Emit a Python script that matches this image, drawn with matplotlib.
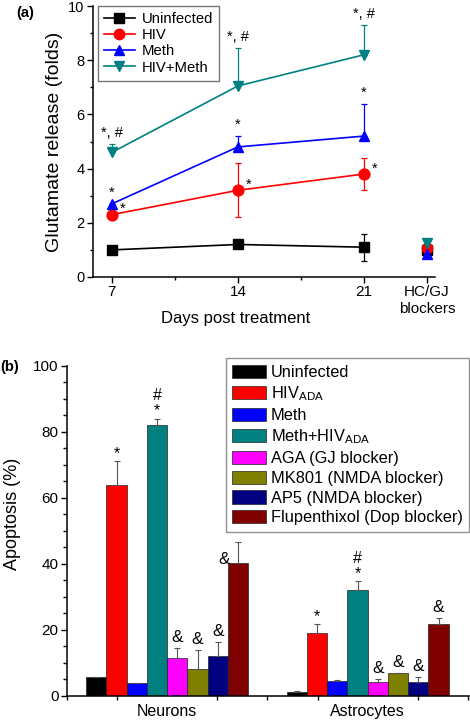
import matplotlib
matplotlib.use('Agg')
import matplotlib.pyplot as plt
from matplotlib.ticker import MultipleLocator, FixedLocator
from matplotlib.lines import Line2D
import numpy as np

plt.rcParams['font.family'] = ['Liberation Sans', 'DejaVu Sans']
plt.rcParams['mathtext.fontset'] = 'custom'
plt.rcParams['mathtext.rm'] = 'Liberation Sans'
plt.rcParams['mathtext.it'] = 'Liberation Sans:italic'

# ---------------- Panel (a) data ----------------
days = [7, 14, 21]
blocker_pos = 24.5
day_labels = ['7', '14', '21', 'HC/GJ\nblockers']
series_names = ['Uninfected', 'HIV', 'Meth', 'HIV+Meth']
uninfected = [1.0, 1.2, 1.1]
hiv = [2.3, 3.2, 3.8]
meth = [2.7, 4.8, 5.2]
hiv_meth = [4.6, 7.05, 8.2]
uninfected_err_hi = [0.15, 0.1, 0.5]
uninfected_err_lo = [0.15, 0.1, 0.5]
hiv_err_hi = [0.0, 1.0, 0.6]
hiv_err_lo = [0.0, 1.0, 0.6]
meth_err_hi = [0.0, 0.4, 1.2]
meth_err_lo = [0.0, 0.0, 0.0]
hiv_meth_err_hi = [0.3, 1.4, 1.1]
hiv_meth_err_lo = [0.0, 0.0, 0.0]
blocker_values = [1.0, 1.07, 0.85, 1.25]
sig_a = [['', '', ''], ['*', '*', '*'], ['*', '*', '*'], ['*, #', '*, #', '*, #']]

# ---------------- Panel (b) data ----------------
groups = ['Neurons', 'Astrocytes']
treatments = ['Uninfected', r'HIV$_{\mathregular{ADA}}$', 'Meth',
              r'Meth+HIV$_{\mathregular{ADA}}$', 'AGA (GJ blocker)',
              'MK801 (NMDA blocker)', 'AP5 (NMDA blocker)',
              'Flupenthixol (Dop blocker)']
neurons = [5.8, 64.0, 3.7, 82.0, 11.3, 8.0, 11.9, 40.1]
neurons_err = [0.0, 7.1, 0.3, 2.0, 3.2, 5.8, 4.4, 6.6]
astrocytes = [1.2, 19.1, 4.5, 32.1, 4.2, 6.8, 4.2, 21.6]
astrocytes_err = [0.3, 2.5, 0.4, 2.7, 0.8, 0.2, 1.6, 2.0]
neurons_sig = ['', '*', '', '*#', '&', '&', '&', '&']
astrocytes_sig = ['', '*', '', '*#', '&', '&', '&', '&']

colors_a = ['#000000', '#FF0000', '#0000FF', '#008080']
markers_a = ['s', 'o', '^', 'v']
colors_b = ['#000000', '#FF0000', '#0000FF', '#008080', '#FF00FF',
            '#808000', '#000080', '#800000']

fig = plt.figure(figsize=(4.70, 7.24), dpi=100)

# ================= Panel (a) =================
ax = fig.add_axes([93/470, 1-277/724, 342/470, 271/724])
vals = [uninfected, hiv, meth, hiv_meth]
ehi = [uninfected_err_hi, hiv_err_hi, meth_err_hi, hiv_meth_err_hi]
elo = [uninfected_err_lo, hiv_err_lo, meth_err_lo, hiv_meth_err_lo]
handles = []
for i in range(4):
    ax.errorbar(days, vals[i], yerr=[elo[i], ehi[i]], color=colors_a[i],
                marker=markers_a[i], markersize=7.8, lw=1.2, elinewidth=0.9,
                capsize=2.5, capthick=0.9, zorder=3)
    handles.append(Line2D([], [], color=colors_a[i], marker=markers_a[i],
                          markersize=7.5, lw=1.2, label=series_names[i]))
for i in range(4):
    ax.plot([blocker_pos], [blocker_values[i]], marker=markers_a[i],
            color=colors_a[i], markersize=7.5, ls='none', zorder=3 + (i == 2))
# significance
for i in range(4):
    for j in range(3):
        t = sig_a[i][j]
        if not t:
            continue
        if i == 1:
            ax.annotate(t, (days[j], vals[i][j]), xytext=(6, 4),
                        textcoords='offset points', ha='left', va='center',
                        fontsize=10.5)
        else:
            ax.annotate(t, (days[j], vals[i][j] + ehi[i][j]), xytext=(0, 3),
                        textcoords='offset points', ha='center', va='bottom',
                        fontsize=10.5)

ax.set_xlim(5.95, 24.95)
ax.set_ylim(0, 10)
ax.xaxis.set_major_locator(FixedLocator(days + [blocker_pos]))
ax.set_xticklabels(day_labels)
ax.xaxis.set_minor_locator(FixedLocator([10.5, 17.5]))
ax.yaxis.set_major_locator(MultipleLocator(2))
ax.yaxis.set_minor_locator(MultipleLocator(1))
ax.tick_params(axis='both', which='major', length=4, width=1, direction='out', pad=2)
ax.tick_params(axis='both', which='minor', length=2.5, width=1, direction='out')
ax.tick_params(axis='x', labelsize=11)
ax.tick_params(axis='y', labelsize=10.5)
for s in ['top', 'right']:
    ax.spines[s].set_visible(False)
for s in ['left', 'bottom']:
    ax.spines[s].set_linewidth(1.1)
ax.set_ylabel('Glutamate release (folds)', fontsize=14)
ax.yaxis.set_label_coords(-0.088, 0.5)
ax.set_xlabel('Days post treatment', fontsize=12)
ax.xaxis.set_label_coords(0.417, -0.125)
leg = ax.legend(handles=handles, loc='upper left', bbox_to_anchor=(0.014, 1.0),
                fontsize=10.7, frameon=True, fancybox=False, edgecolor='#555555',
                handlelength=2.1, handletextpad=0.45, labelspacing=0.15,
                borderpad=0.4, borderaxespad=0)
leg.get_frame().set_linewidth(1.0)
fig.text(16/470, 1-13/724, '(a)', fontsize=10.5, fontweight='bold', va='center')

# ================= Panel (b) =================
bx = fig.add_axes([67/470, 1-695.7/724, 402/470, 330/724])
width = 0.101
centers = np.array([1.0, 2.0])
n = len(treatments)
sig_b = [neurons_sig, astrocytes_sig]
for k in range(n):
    xs = centers + (k - (n - 1) / 2) * width
    hs = [neurons[k], astrocytes[k]]
    es = [neurons_err[k], astrocytes_err[k]]
    bx.bar(xs, hs, width=width, color=colors_b[k], edgecolor='#222222',
           linewidth=0.5, label=treatments[k], zorder=2)
    bx.errorbar(xs, hs, yerr=[[0, 0], es], fmt='none', ecolor='#555555',
                elinewidth=0.8, capsize=2.2, capthick=0.8, zorder=3)
    for g in range(2):
        t = sig_b[g][k]
        if not t:
            continue
        top = hs[g] + es[g]
        if g == 0 and k == n - 1:
            bx.annotate(t, (xs[g], hs[g]), xytext=(-10, 3),
                        textcoords='offset points', ha='center', va='center',
                        fontsize=12.5)
            continue
        if t == '*#':
            bx.annotate('*', (xs[g], top), xytext=(0, 0),
                        textcoords='offset points', ha='center', va='bottom',
                        fontsize=11.5)
            bx.annotate('#', (xs[g], top), xytext=(0, 11),
                        textcoords='offset points', ha='center', va='bottom',
                        fontsize=11.5)
        elif t == '*':
            bx.annotate('*', (xs[g], top), xytext=(0, 0),
                        textcoords='offset points', ha='center', va='bottom',
                        fontsize=11.5)
        else:
            bx.annotate(t, (xs[g], top), xytext=(0, 2),
                        textcoords='offset points', ha='center', va='bottom',
                        fontsize=12.5)

bx.set_xlim(0.5, 2.505)
bx.set_ylim(0, 100)
bx.xaxis.set_major_locator(FixedLocator(list(centers)))
bx.set_xticklabels(groups)
bx.xaxis.set_minor_locator(FixedLocator([0.5, 0.75, 1.25, 1.5, 1.75, 2.25, 2.5]))
bx.yaxis.set_major_locator(MultipleLocator(20))
bx.yaxis.set_minor_locator(MultipleLocator(5))
bx.tick_params(axis='both', which='major', length=4, width=1, direction='out',
               labelsize=11, pad=2)
bx.tick_params(axis='x', which='major', length=0, pad=6, labelsize=11.5)
bx.tick_params(axis='both', which='minor', length=3, width=1, direction='out')
for s in ['top', 'right']:
    bx.spines[s].set_visible(False)
for s in ['left', 'bottom']:
    bx.spines[s].set_linewidth(1.1)
bx.set_ylabel('Apoptosis (%)', fontsize=13)
bx.yaxis.set_label_coords(-0.114, 0.55)
legb = bx.legend(loc='upper right', bbox_to_anchor=(1.0, 1.023), fontsize=11.8,
                 frameon=True, fancybox=False, edgecolor='#777777',
                 handlelength=2.1, handleheight=0.85, handletextpad=0.25,
                 labelspacing=0.28, borderpad=0.4, borderaxespad=0)
legb.get_frame().set_linewidth(1.0)
fig.text(0/470, 1-367/724, '(b)', fontsize=10.5, fontweight='bold', va='center')

fig.savefig('out.png', dpi=100)
